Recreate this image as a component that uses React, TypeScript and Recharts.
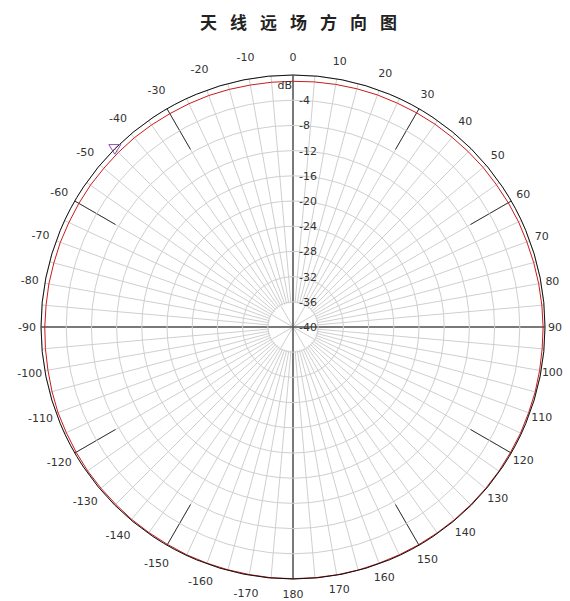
import React from 'react';
import { RadarChart, Radar, PolarGrid, PolarAngleAxis, PolarRadiusAxis } from 'recharts';

const W = 570;
const H = 601;
const CX = 293;
const CY = 327;
const R = 252;

const title = '天线远场方向图';

// angle categories, degrees clockwise from top
const angleDegrees = [
  0, 5, 10, 15, 20, 25, 30, 35, 40, 45, 50, 55, 60, 65, 70, 75, 80, 85,
  90, 95, 100, 105, 110, 115, 120, 125, 130, 135, 140, 145, 150, 155, 160, 165, 170, 175,
  180, 185, 190, 195, 200, 205, 210, 215, 220, 225, 230, 235, 240, 245, 250, 255, 260, 265,
  270, 275, 280, 285, 290, 295, 300, 305, 310, 315, 320, 325, 330, 335, 340, 345, 350, 355,
];

// red pattern (dB), same order as angleDegrees
const redValues = [
  -1.0, -0.95, -0.9, -0.85, -0.8, -0.8, -0.75, -0.7, -0.7, -0.65, -0.6, -0.6, -0.55, -0.5, -0.5, -0.45, -0.4, -0.35,
  -0.3, -0.3, -0.25, -0.2, -0.2, -0.15, -0.15, -0.1, -0.1, -0.1, -0.1, -0.1, -0.1, -0.1, -0.1, -0.05, -0.05, -0.05,
  -0.05, -0.05, -0.1, -0.1, -0.1, -0.1, -0.15, -0.15, -0.15, -0.2, -0.2, -0.2, -0.25, -0.3, -0.3, -0.4, -0.5, -0.55,
  -0.6, -0.65, -0.65, -0.7, -0.7, -0.75, -0.75, -0.75, -0.8, -0.8, -0.8, -0.85, -0.9, -0.9, -0.9, -0.95, -1.0, -1.0,
];

const radiusTicks = [-40, -36, -32, -28, -24, -20, -16, -12, -8, -4, 0];
const radiusDomain = [-40, 0];

const markerAngle = -45;
const markerValue = 0;

const fineSpokes = angleDegrees;
const heavySpokes = [30, 60, 120, 150, 210, 240, 300, 330];
const innerSpokes = [0, 30, 60, 90, 120, 150, 180, 210, 240, 270, 300, 330];
const axisSpokes = [0, 90, 180, 270];

const data = angleDegrees.map((a, i) => ({
  angle: a,
  red: redValues[i],
  marker: markerValue,
}));

const markerIndex = angleDegrees.indexOf((markerAngle + 360) % 360);

const FONT = '"DejaVu Sans", Verdana, sans-serif';

const layer: React.CSSProperties = { position: 'absolute', left: 0, top: 0, width: W, height: H };

const AngleTick = (props: any) => {
  const { x, y, payload, index } = props;
  const v = Number(payload.value);
  if (v % 10 !== 0) return <g key={`at-${index}`} />;
  const label = v <= 180 ? v : v - 360;
  const dx = x - CX;
  const dy = y - CY;
  const len = Math.sqrt(dx * dx + dy * dy) || 1;
  const ux = dx / len;
  const uy = dy / len;
  const off = 2 + 8 * Math.abs(uy) + (ux < -0.05 ? 4 : 0) - (uy > 0.9 ? 3 : 0);
  return (
    <text
      key={`at-${index}`}
      x={x + ux * off}
      y={y + uy * off}
      textAnchor="middle"
      dominantBaseline="central"
      fontSize={11}
      fontFamily={FONT}
      fill="#333"
    >
      {label}
    </text>
  );
};

const RadiusTick = (props: any) => {
  const { x, y, payload, index } = props;
  const v = Number(payload.value);
  if (v === 0) {
    return (
      <text key={`rt-${index}`} x={x - 1} y={y + 14} textAnchor="end" fontSize={11} fontFamily={FONT} fill="#333">
        dB
      </text>
    );
  }
  return (
    <text key={`rt-${index}`} x={x + 6} y={y + 4} textAnchor="start" fontSize={11} fontFamily={FONT} fill="#333">
      {v}
    </text>
  );
};

const MarkerDot = (props: any) => {
  const { cx, cy, index } = props;
  if (index !== markerIndex) return <g key={`md-${index}`} />;
  const s = 6;
  return (
    <path
      key={`md-${index}`}
      d={`M${cx - s},${cy - s * 0.7} L${cx + s},${cy - s * 0.7} L${cx},${cy + s * 0.9} Z`}
      fill="none"
      stroke="#8a4fb0"
      strokeWidth={1}
    />
  );
};

const SpokeLayer = ({ angles, inner, outer, stroke, width }: any) => (
  <div style={layer}>
    <RadarChart width={W} height={H} data={data} cx={CX} cy={CY} innerRadius={inner} outerRadius={outer}>
      <PolarGrid gridType="circle" polarAngles={angles} polarRadius={[]} stroke={stroke} strokeWidth={width} />
    </RadarChart>
  </div>
);

export default function App() {
  return (
    <div style={{ position: 'absolute', left: 0, top: 0, width: W, height: H, background: '#fff' }}>
      <div
        style={{
          position: 'absolute',
          left: 0,
          top: 9,
          width: W,
          textAlign: 'center',
          fontFamily: '"Noto Sans CJK SC", sans-serif',
          fontWeight: 'bold',
          fontSize: 17,
          letterSpacing: 13,
          paddingLeft: 40,
          boxSizing: 'border-box',
          color: '#222',
          lineHeight: '26px',
        }}
      >
        {title}
      </div>
      <SpokeLayer angles={fineSpokes} inner={24} outer={R} stroke="#cfcfcf" width={1} />
      <SpokeLayer angles={innerSpokes} inner={0} outer={24} stroke="#cfcfcf" width={1} />
      <SpokeLayer angles={heavySpokes} inner={205} outer={R} stroke="#333" width={1} />
      <SpokeLayer angles={axisSpokes} inner={0} outer={R} stroke="#555" width={1.5} />
      <div style={layer}>
        <RadarChart width={W} height={H} data={data} cx={CX} cy={CY} innerRadius={0} outerRadius={R}>
          <PolarGrid gridType="circle" radialLines={false} stroke="#cfcfcf" />
          <PolarAngleAxis
            dataKey="angle"
            tick={AngleTick}
            tickLine={false}
            axisLineType="circle"
            axisLine={{ stroke: '#111', strokeWidth: 1 }}
          />
          <PolarRadiusAxis
            angle={90}
            type="number"
            domain={radiusDomain}
            ticks={radiusTicks}
            tickCount={11}
            axisLine={false}
            tickLine={false}
            tick={RadiusTick}
          />
          <Radar
            dataKey="red"
            stroke="#cc1a1a"
            strokeWidth={1}
            fill="none"
            fillOpacity={0}
            dot={false}
            isAnimationActive={false}
          />
          <Radar
            dataKey="marker"
            stroke="none"
            fill="none"
            fillOpacity={0}
            dot={MarkerDot}
            isAnimationActive={false}
          />
        </RadarChart>
      </div>
    </div>
  );
}
